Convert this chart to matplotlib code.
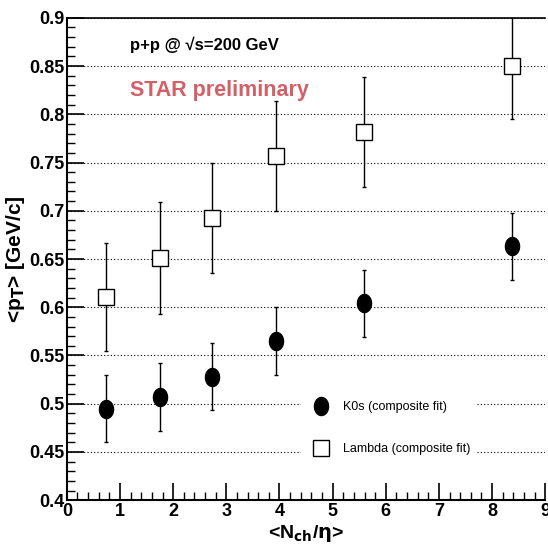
import numpy as np
import matplotlib.pyplot as plt
from matplotlib.path import Path
from matplotlib.ticker import MultipleLocator

plt.rcParams['font.family'] = ['Liberation Sans', 'DejaVu Sans']

# data
nch = [0.73, 1.75, 2.73, 3.94, 5.59, 8.38]
k0s_pt = [0.495, 0.507, 0.528, 0.565, 0.604, 0.663]
k0s_err = [0.035, 0.035, 0.035, 0.035, 0.035, 0.035]
lam_pt = [0.611, 0.651, 0.693, 0.757, 0.782, 0.850]
lam_err = [0.056, 0.058, 0.057, 0.057, 0.057, 0.055]

# tall ellipse marker (the reference dots are a bit taller than wide)
t = np.linspace(0, 2 * np.pi, 60)
ell = Path(np.column_stack([0.78 * np.cos(t), np.sin(t)]), closed=True)

fig = plt.figure(figsize=(5.48, 5.57), dpi=100)
ax = fig.add_axes([0.122, 0.102, 0.873, 0.866])

ax.errorbar(nch, k0s_pt, yerr=k0s_err, fmt='none', ecolor='black',
            elinewidth=1, capsize=1.5, zorder=3)
ax.plot(nch, k0s_pt, ls='none', marker=ell, color='black', ms=13,
        label='K0s (composite fit)', zorder=4)
ax.errorbar(nch, lam_pt, yerr=lam_err, fmt='s', color='black', mfc='white',
            mec='black', ms=11, mew=1, elinewidth=1, capsize=1.5,
            label='Lambda (composite fit)', zorder=3)

ax.set_xlim(0, 9)
ax.set_ylim(0.4, 0.9)
ax.xaxis.set_major_locator(MultipleLocator(1))
ax.xaxis.set_minor_locator(MultipleLocator(0.2))
ax.yaxis.set_minor_locator(MultipleLocator(0.01))
ax.set_yticks([0.4, 0.45, 0.5, 0.55, 0.6, 0.65, 0.7, 0.75, 0.8, 0.85, 0.9])
ax.set_yticklabels(['0.4', '0.45', '0.5', '0.55', '0.6', '0.65', '0.7', '0.75', '0.8', '0.85', '0.9'])
ax.tick_params(which='both', direction='in')
ax.tick_params(which='major', length=12, width=1.2, labelsize=13, pad=2)
ax.tick_params(which='minor', length=6, width=1)
for lab in ax.get_xticklabels() + ax.get_yticklabels():
    lab.set_fontweight('bold')

ax.yaxis.grid(True, which='major', linestyle=(0, (1, 2)), color='black', linewidth=0.8)
ax.spines['right'].set_visible(False)
ax.spines['left'].set_linewidth(1.5)
ax.spines['bottom'].set_linewidth(1.5)
ax.spines['top'].set_linewidth(1.2)

ax.set_xlabel(r'<N$_{\mathbf{ch}}$/$\mathbf{\eta}$>', fontsize=14, fontweight='bold', labelpad=2)
ax.set_ylabel(r'<p$_{\mathbf{T}}$> [GeV/c]', fontsize=15, fontweight='bold', labelpad=1)

ax.text(1.19, 0.867, 'p+p @ √s=200 GeV', fontsize=12, fontweight='bold')
ax.text(1.19, 0.819, 'STAR preliminary', fontsize=15.5, fontweight='bold', color='#d35f67')

leg = ax.legend(loc='lower left', bbox_to_anchor=(0.477, 0.068), frameon=True,
                edgecolor='none', facecolor='white', framealpha=1, fancybox=False,
                fontsize=9, labelspacing=2.4, handletextpad=0.6, handlelength=2.2,
                numpoints=1, borderpad=0.5)

fig.savefig('out.png', dpi=100)
